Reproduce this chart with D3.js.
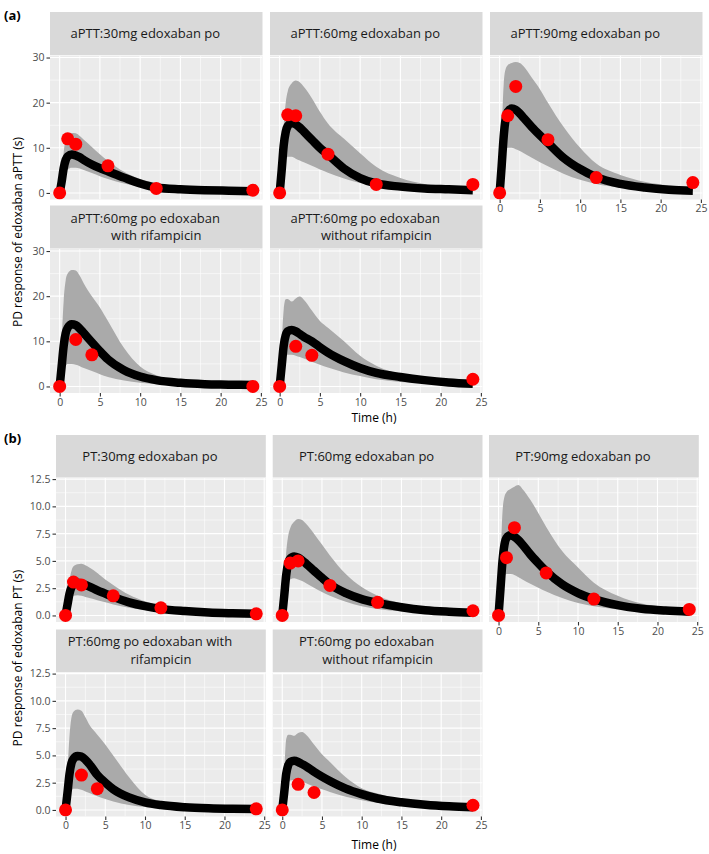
<!DOCTYPE html>
<html><head><meta charset="utf-8">
<script src="https://cdn.jsdelivr.net/npm/d3@7"></script>
<style>
body{margin:0;background:#fff}
svg{display:block}
text{font-family:"Open Sans",sans-serif}
</style>
</head><body>
<svg id="c" width="709" height="854"></svg>
<script>
// ---------- DATA ----------
const simTimes = [0,0.25,0.5,0.75,1,1.5,2,2.5,3,4,5,6,8,10,12,15,18,21,24];
const xTicks = [0,5,10,15,20,25];
const apttTicks = [0,10,20,30];
const ptTicks = [0,2.5,5,7.5,10,12.5];

// aPTT panels
const apttLabels = [
  ["aPTT:30mg edoxaban po"],
  ["aPTT:60mg edoxaban po"],
  ["aPTT:90mg edoxaban po"],
  ["aPTT:60mg po edoxaban","with rifampicin"],
  ["aPTT:60mg po edoxaban","without rifampicin"]
];
const aptt30Median = [0,2.5,5.5,7.3,8.1,8.5,8.3,7.9,7.3,6.3,5.5,4.8,3.4,2.1,1.2,0.8,0.6,0.5,0.4];
const aptt30Lower  = [0,1,3,4.5,5.2,5.6,5.6,5.4,5.1,4.4,3.7,3.1,2.1,1.4,0.9,0.6,0.45,0.35,0.3];
const aptt30Upper  = [0,4,9,12,13,13.3,13.2,12.6,11.8,10.2,8.6,7.1,4.7,3.1,2.2,1.3,0.9,0.7,0.6];
const aptt30ObsTime = [0,1,2,6,12,24];
const aptt30ObsValue = [0,12,10.8,6,1,0.6];

const aptt60Median = [0,5,10.5,13.5,14.8,15.5,15.2,14.5,13.6,11.8,10,8.5,5.4,3.3,2.1,1.4,1.0,0.8,0.6];
const aptt60Lower  = [0,2,5,7,8,8,7.6,7.2,6.8,6,5.2,4.5,3.2,2.2,1.5,0.9,0.6,0.45,0.35];
const aptt60Upper  = [0,8,15,20,22.5,24.3,24.9,24.5,23.5,21,18,15.4,12,8.8,5.8,3.3,2,1.4,1];
const aptt60ObsTime = [0,1,2,6,12,24];
const aptt60ObsValue = [0,17.3,17.1,8.6,1.9,1.9];

const aptt90Median = [0,6,12.5,16.5,18,18.7,18.4,17.6,16.6,14.6,12.8,11.1,7.7,5.3,3.5,2.0,1.2,0.7,0.5];
const aptt90Lower  = [0,3,7,9.5,10,10,9.7,9.3,8.8,7.8,6.8,5.9,4.2,2.9,2,1.2,0.8,0.6,0.45];
const aptt90Upper  = [0,12,24,27.5,28.3,28.8,29,28.8,28,25.5,23,20,14.5,10,6.5,4,2.5,1.7,1.2];
const aptt90ObsTime = [0,1,2,6,12,24];
const aptt90ObsValue = [0,17.1,23.6,11.8,3.4,2.3];

const apttRifMedian = [0,4.5,9,11.8,13,13.8,13.6,12.8,11.8,9.8,7.8,6.0,3.6,2.2,1.4,0.8,0.5,0.4,0.3];
const apttRifLower  = [0,1.5,3.5,4.6,5,5,4.8,4.5,4.1,3.4,2.7,2.1,1.3,0.8,0.5,0.3,0.2,0.15,0.1];
const apttRifUpper  = [0,10,19,23.5,25,25.8,25.7,24.5,22.8,20,17.5,14.5,8.5,4.4,2.5,1.3,0.8,0.6,0.5];
const apttRifObsTime = [0,2,4,24];
const apttRifObsValue = [0,10.4,7,0];

const apttNoRifMedian = [0,4.5,9,11.3,12.2,12.5,12.2,11.6,11,10,8.7,7.5,5.6,4.1,3.0,2.1,1.4,0.9,0.6];
const apttNoRifLower  = [0,2,5,6.5,7,7,6.8,6.5,6.2,5.5,4.8,4.2,3.1,2.3,1.6,1,0.7,0.5,0.4];
const apttNoRifUpper  = [0,9,17,19.3,19.4,18.8,19.5,19.9,19.2,16.8,14.5,13,10,6.8,4.6,2.7,1.6,1.2,0.9];
const apttNoRifObsTime = [0,2,4,24];
const apttNoRifObsValue = [0,8.9,6.9,1.6];

// PT panels
const ptLabels = [
  ["PT:30mg edoxaban po"],
  ["PT:60mg edoxaban po"],
  ["PT:90mg edoxaban po"],
  ["PT:60mg po edoxaban with","rifampicin"],
  ["PT:60mg po edoxaban","without rifampicin"]
];
const pt30Median = [0,1.0,2.0,2.6,2.85,3.0,2.95,2.8,2.65,2.3,2.0,1.7,1.2,0.85,0.6,0.4,0.27,0.2,0.15];
const pt30Lower  = [0,0.5,1.2,1.6,1.8,1.85,1.8,1.7,1.6,1.4,1.2,1.0,0.7,0.5,0.35,0.22,0.15,0.11,0.08];
const pt30Upper  = [0,1.5,3.2,4.1,4.5,4.7,4.75,4.6,4.4,3.9,3.3,2.8,1.9,1.3,0.9,0.55,0.4,0.3,0.25];
const pt30ObsTime = [0,1,2,6,12,24];
const pt30ObsValue = [0,3.06,2.8,1.8,0.7,0.15];

const pt60Median = [0,1.8,3.7,4.8,5.2,5.4,5.3,5.05,4.75,4.1,3.45,2.85,2.05,1.5,1.15,0.75,0.48,0.34,0.25];
const pt60Lower  = [0,0.8,2.0,2.9,3.3,3.4,3.3,3.15,2.95,2.55,2.15,1.8,1.25,0.85,0.6,0.38,0.25,0.18,0.13];
const pt60Upper  = [0,3,5.8,7.3,8.0,8.6,8.85,8.75,8.4,7.5,6.5,5.5,3.8,2.6,1.8,1.1,0.7,0.5,0.4];
const pt60ObsTime = [0,1,2,6,12,24];
const pt60ObsValue = [0,4.8,5.0,2.75,1.2,0.43];

const pt90Median = [0,2.5,5.0,6.5,7.1,7.35,7.2,6.9,6.5,5.6,4.8,4.05,2.85,2.05,1.5,0.95,0.62,0.45,0.35];
const pt90Lower  = [0,1.2,2.8,3.6,3.8,3.8,3.7,3.5,3.3,2.9,2.55,2.2,1.6,1.15,0.85,0.55,0.38,0.28,0.2];
const pt90Upper  = [0,5,9.5,10.9,11.3,11.6,11.8,11.95,11.6,10.6,9.4,8.1,5.9,4.4,3.0,1.8,1.1,0.8,0.6];
const pt90ObsTime = [0,1,2,6,12,24];
const pt90ObsValue = [0,5.3,8.05,3.9,1.5,0.55];

const ptRifMedian = [0,1.6,3.3,4.3,4.7,4.95,4.9,4.6,4.2,3.2,2.5,1.9,1.15,0.7,0.45,0.25,0.15,0.1,0.08];
const ptRifLower  = [0,0.7,1.4,1.8,1.95,1.95,1.85,1.7,1.55,1.25,1.0,0.78,0.45,0.27,0.16,0.09,0.05,0.03,0.02];
const ptRifUpper  = [0,3.5,6.8,8.5,9.0,9.2,9.1,8.5,7.8,6.9,6.0,5.0,3.0,1.4,0.8,0.45,0.3,0.2,0.15];
const ptRifObsTime = [0,2,4,24];
const ptRifObsValue = [0,3.2,1.95,0.1];

const ptNoRifMedian = [0,1.6,3.3,4.1,4.4,4.5,4.4,4.2,4.0,3.5,3.05,2.65,1.95,1.45,1.05,0.7,0.47,0.33,0.25];
const ptNoRifLower  = [0,0.9,2.0,2.5,2.7,2.75,2.7,2.6,2.45,2.15,1.9,1.65,1.2,0.9,0.65,0.43,0.29,0.2,0.15];
const ptNoRifUpper  = [0,3.5,6.5,6.9,6.9,6.8,7.05,7.15,6.9,6.0,5.1,4.4,3.0,2.0,1.5,0.95,0.65,0.48,0.38];
const ptNoRifObsTime = [0,2,4,24];
const ptNoRifObsValue = [0,2.35,1.6,0.43];

// ---------- BUILD ----------
function panelsOf(labels, meds, lows, ups, obsT, obsV){
  return labels.map((lab,i)=>({
    label: lab,
    sim: simTimes.map((t,j)=>({t, m: meds[i][j], lo: lows[i][j], hi: ups[i][j]})),
    obs: obsT[i].map((t,j)=>({t, v: obsV[i][j]}))
  }));
}
const apttPanels = panelsOf(apttLabels,
  [aptt30Median,aptt60Median,aptt90Median,apttRifMedian,apttNoRifMedian],
  [aptt30Lower,aptt60Lower,aptt90Lower,apttRifLower,apttNoRifLower],
  [aptt30Upper,aptt60Upper,aptt90Upper,apttRifUpper,apttNoRifUpper],
  [aptt30ObsTime,aptt60ObsTime,aptt90ObsTime,apttRifObsTime,apttNoRifObsTime],
  [aptt30ObsValue,aptt60ObsValue,aptt90ObsValue,apttRifObsValue,apttNoRifObsValue]);
const ptPanels = panelsOf(ptLabels,
  [pt30Median,pt60Median,pt90Median,ptRifMedian,ptNoRifMedian],
  [pt30Lower,pt60Lower,pt90Lower,ptRifLower,ptNoRifLower],
  [pt30Upper,pt60Upper,pt90Upper,ptRifUpper,ptNoRifUpper],
  [pt30ObsTime,pt60ObsTime,pt90ObsTime,ptRifObsTime,ptNoRifObsTime],
  [pt30ObsValue,pt60ObsValue,pt90ObsValue,ptRifObsValue,ptNoRifObsValue]);

const svg = d3.select("#c");
let clipId = 0;

function drawGroup(cfg){
  const n = cfg.panels.length;
  cfg.panels.forEach((p,i)=>{
    const col = i%3, row = Math.floor(i/3);
    const x0 = cfg.colX[col], w = cfg.colW;
    const sTop = cfg.stripTop[row], sh = cfg.stripH;
    const pTop = sTop + sh + 0.5, ph = cfg.panelH;
    const x = d3.scaleLinear().domain([-1.2,25.2]).range([x0,x0+w]);
    const y = d3.scaleLinear().domain(cfg.yDomain).range([pTop+ph,pTop]);
    const g = svg.append("g");

    // strip
    g.append("rect").attr("x",x0).attr("y",sTop).attr("width",w).attr("height",sh).attr("fill","#d9d9d9");
    const cx = x0 + w/2, cy = sTop + sh/2;
    const L = p.label.length;
    p.label.forEach((s,k)=>{
      g.append("text").attr("x", k===0 ? cx-11 : cx)
        .attr("y", cy + (k-(L-1)/2)*17.8)
        .attr("dy","0.35em").attr("text-anchor","middle")
        .attr("font-size",13).attr("fill","#1a1a1a").text(s);
    });

    // panel background
    g.append("rect").attr("x",x0).attr("y",pTop).attr("width",w).attr("height",ph).attr("fill","#ebebeb");
    const id = "cp"+(clipId++);
    g.append("clipPath").attr("id",id).append("rect").attr("x",x0).attr("y",pTop).attr("width",w).attr("height",ph);
    const pg = g.append("g").attr("clip-path",`url(#${id})`);

    // minor grid
    const xm = xTicks.slice(0,-1).map((v,k)=>(v+xTicks[k+1])/2);
    const yt = cfg.yTicks;
    const ym = yt.slice(0,-1).map((v,k)=>(v+yt[k+1])/2);
    pg.selectAll(null).data(xm).enter().append("line")
      .attr("x1",d=>x(d)).attr("x2",d=>x(d)).attr("y1",pTop).attr("y2",pTop+ph)
      .attr("stroke","#fff").attr("stroke-width",0.55);
    pg.selectAll(null).data(ym).enter().append("line")
      .attr("y1",d=>y(d)).attr("y2",d=>y(d)).attr("x1",x0).attr("x2",x0+w)
      .attr("stroke","#fff").attr("stroke-width",0.55);
    // major grid
    pg.selectAll(null).data(xTicks).enter().append("line")
      .attr("x1",d=>x(d)).attr("x2",d=>x(d)).attr("y1",pTop).attr("y2",pTop+ph)
      .attr("stroke","#fff").attr("stroke-width",1.1);
    pg.selectAll(null).data(yt).enter().append("line")
      .attr("y1",d=>y(d)).attr("y2",d=>y(d)).attr("x1",x0).attr("x2",x0+w)
      .attr("stroke","#fff").attr("stroke-width",1.1);

    // ribbon
    const area = d3.area().x(d=>x(d.t)).y0(d=>y(d.lo)).y1(d=>y(d.hi)).curve(d3.curveMonotoneX);
    pg.append("path").datum(p.sim).attr("d",area).attr("fill","#aaaaaa");
    // median
    const line = d3.line().x(d=>x(d.t)).y(d=>y(d.m)).curve(d3.curveMonotoneX);
    pg.append("path").datum(p.sim).attr("d",line).attr("fill","none")
      .attr("stroke","#000").attr("stroke-width",8.5).attr("stroke-linejoin","round");
    // observations
    pg.selectAll(null).data(p.obs).enter().append("circle")
      .attr("cx",d=>x(d.t)).attr("cy",d=>y(d.v)).attr("r",6.5).attr("fill","#ff0000");

    // axes
    if (i+3 >= n){
      const ax = g.append("g").attr("transform",`translate(0,${pTop+ph})`)
        .call(d3.axisBottom(x).tickValues(xTicks).tickSize(3.5).tickPadding(2).tickFormat(d3.format("d")));
      styleAxis(ax);
    }
    if (col===0){
      const ay = g.append("g").attr("transform",`translate(${x0},0)`)
        .call(d3.axisLeft(y).tickValues(yt).tickSize(3.5).tickPadding(2).tickFormat(cfg.fmt));
      styleAxis(ay);
    }
  });

  // titles
  svg.append("text").attr("x",cfg.xTitleX).attr("y",cfg.xTitleY).attr("dy","0.35em")
    .attr("text-anchor","middle").attr("font-size",12).attr("fill","#000").text("Time (h)");
  svg.append("text").attr("transform",`translate(${cfg.yTitleX},${cfg.yTitleY}) rotate(-90)`)
    .attr("dy","0.35em").attr("text-anchor","middle").attr("font-size",12).attr("fill","#000").text(cfg.yTitle);
  svg.append("text").attr("x",4).attr("y",cfg.tagY).attr("font-size",13).attr("font-weight","bold")
    .attr("fill","#000").text(cfg.tag);
}
function styleAxis(a){
  a.select(".domain").remove();
  a.selectAll(".tick line").attr("stroke","#333").attr("stroke-width",1.1);
  a.selectAll(".tick text").attr("fill","#4d4d4d").attr("font-size",10.5).attr("font-family","'Open Sans',sans-serif");
}

drawGroup({
  panels: apttPanels, colX:[50,270,490], colW:212.5,
  stripTop:[12,205.5], stripH:43, panelH:144,
  yDomain:[-1.45,30.45], yTicks: apttTicks, fmt: d3.format("d"),
  xTitleX:374, xTitleY:418, yTitleX:18, yTitleY:232,
  yTitle:"PD response of edoxaban aPTT (s)", tag:"(a)", tagY:20
});
drawGroup({
  panels: ptPanels, colX:[56,272.7,489], colW:209.8,
  stripTop:[435,629.5], stripH:42.5, panelH:144,
  yDomain:[-0.6,12.6], yTicks: ptTicks, fmt: d3.format(".1f"),
  xTitleX:374, xTitleY:845, yTitleX:18, yTitleY:658,
  yTitle:"PD response of edoxaban PT (s)", tag:"(b)", tagY:443
});
</script>
</body></html>
